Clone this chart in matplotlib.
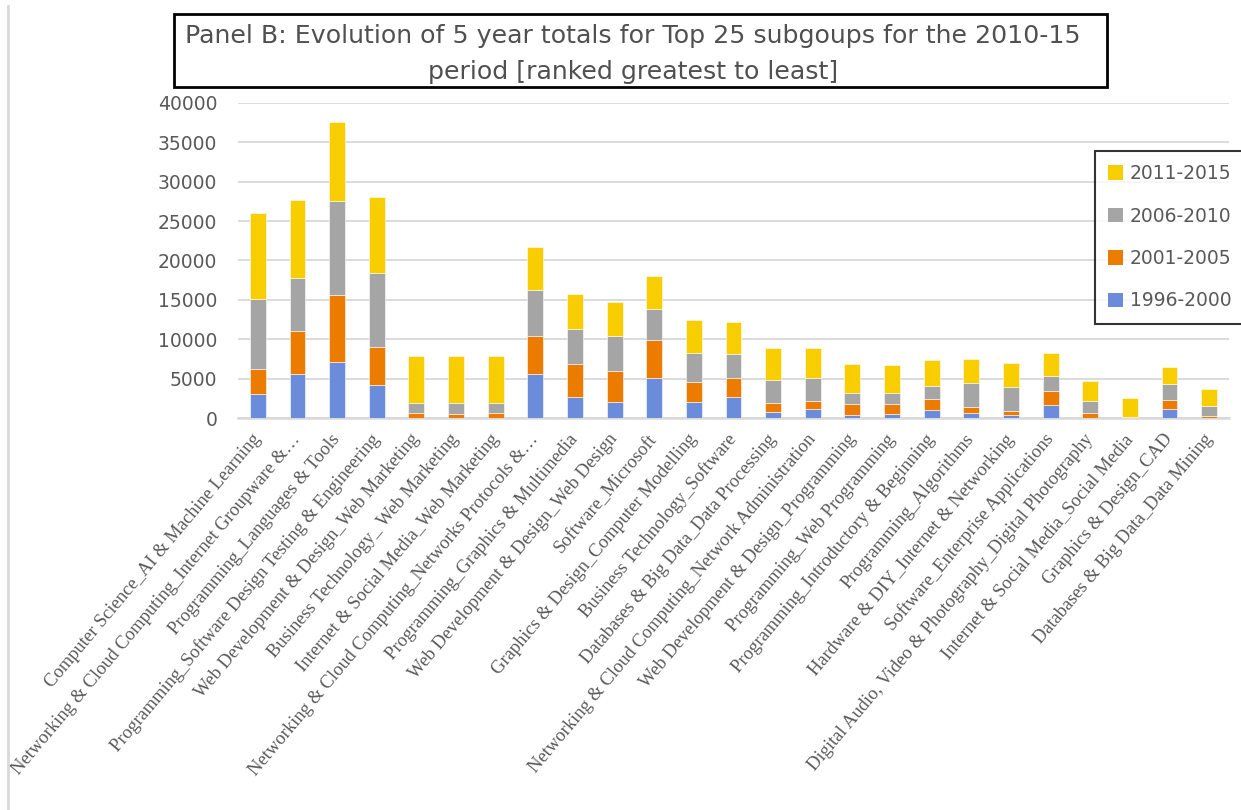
import matplotlib
matplotlib.use("Agg")
import matplotlib.pyplot as plt
from matplotlib.patches import Rectangle, Patch
from matplotlib.lines import Line2D
import numpy as np

# subgroups, ranked as in the source
categories = [
    "Computer Science_AI & Machine Learning",
    "Networking & Cloud Computing_Internet Groupware &\u2026",
    "Programming_Languages & Tools",
    "Programming_Software Design Testing & Engineering",
    "Web Development & Design_Web Marketing",
    "Business Technology_ Web Marketing",
    "Internet & Social Media_Web Marketing",
    "Networking & Cloud Computing_Networks Protocols &\u2026",
    "Programming_Graphics & Multimedia",
    "Web Development & Design_Web Design",
    "Software_Microsoft",
    "Graphics & Design_Computer Modelling",
    "Business Technology_Software",
    "Databases & Big Data_Data Processing",
    "Networking & Cloud Computing_Network Administration",
    "Web Development & Design_Programming",
    "Programming_Web Programming",
    "Programming_Introductory & Beginning",
    "Programming_Algorithms",
    "Hardware & DIY_Internet & Networking",
    "Software_Enterprise Applications",
    "Digital Audio, Video & Photography_Digital Photography",
    "Internet & Social Media_Social Media",
    "Graphics & Design_CAD",
    "Databases & Big Data_Data Mining",
]

# 5 year totals per period
p1996_2000 = [3080, 5580, 7140, 4180, 100, 80, 100, 5580, 2750, 2030, 5150, 2110, 2660,
              800, 1140, 470, 510, 1100, 630, 420, 1730, 100, 20, 1180, 40]
p2001_2005 = [3130, 5490, 8450, 4900, 530, 430, 530, 4900, 4090, 4010, 4780, 2490, 2450,
              1100, 1100, 1300, 1260, 1390, 850, 550, 1780, 580, 40, 1190, 260]
p2006_2010 = [8910, 6670, 11990, 9290, 1360, 1430, 1360, 5820, 4520, 4390, 3880, 3640, 3000,
              2920, 2830, 1400, 1400, 1650, 3040, 3040, 1900, 1560, 90, 1940, 1310]
p2011_2015 = [10860, 9970, 9930, 9630, 5910, 5920, 5870, 5370, 4440, 4350, 4230, 4180, 4100,
              4090, 3840, 3670, 3630, 3290, 2960, 2960, 2870, 2490, 2380, 2200, 2110]

series = [
    ("1996-2000", p1996_2000, "#6b8cdb"),
    ("2001-2005", p2001_2005, "#ec7c00"),
    ("2006-2010", p2006_2010, "#a5a5a5"),
    ("2011-2015", p2011_2015, "#f8ce00"),
]

W, H = 1241, 810
fig = plt.figure(figsize=(W / 100, H / 100), dpi=100)
ax = fig.add_axes([238 / W, 1 - 418.3 / H, (1229 - 238) / W, (418.3 - 102.7) / H])

x = np.arange(len(categories))
bottom = np.zeros(len(categories))
for name, vals, col in series:
    ax.bar(x, vals, 0.4, bottom=bottom, color=col, edgecolor="white", linewidth=0.4,
           label=name, zorder=3)
    bottom += np.array(vals)

ax.set_xlim(-0.5, len(categories) - 0.5)
ax.set_ylim(0, 40000)
ax.set_yticks(range(0, 40001, 5000))
ax.grid(axis="y", color="#d9d9d9", linewidth=1.3, zorder=0)
for s in ["top", "right", "left"]:
    ax.spines[s].set_visible(False)
ax.spines["bottom"].set_color("#d9d9d9")
ax.spines["bottom"].set_linewidth(1.8)
ax.tick_params(axis="y", length=0, pad=15, labelsize=13.5, labelcolor="#595959")
ax.tick_params(axis="x", length=0, pad=13)
ax.set_xticks(x)
ax.set_xticklabels(categories, rotation=50, ha="right", va="center",
                   rotation_mode="anchor", family="Liberation Serif",
                   fontsize=13.3, color="#595959")

# legend, reversed order like the source
handles = [Patch(facecolor=c) for _, _, c in series[::-1]]
labels = [n for n, _, _ in series[::-1]]
leg = fig.legend(handles, labels, loc="upper left",
                 bbox_to_anchor=(1095 / W, 1 - 151 / H),
                 frameon=True, fancybox=False, edgecolor="black",
                 fontsize=13.5, labelcolor="#595959",
                 handlelength=0.8, handleheight=0.8, handletextpad=0.35,
                 labelspacing=1.25, borderpad=0.7, borderaxespad=0)
leg.get_frame().set_linewidth(1.5)

# title box
fig.patches.append(Rectangle((174 / W, 1 - 87 / H), (1107 - 174) / W, 73 / H,
                             transform=fig.transFigure, fill=False,
                             edgecolor="black", linewidth=2))
fig.text(633 / W, 1 - 36 / H, "Panel B: Evolution of 5 year totals for Top 25 subgoups for the 2010-15",
         ha="center", va="center", fontsize=18.2, color="#505050")
fig.text(633 / W, 1 - 72 / H, "period [ranked greatest to least]",
         ha="center", va="center", fontsize=18.2, color="#505050")

# faint frame line at the left edge
fig.lines.append(Line2D([8 / W, 8 / W], [0, 1 - 6 / H], transform=fig.transFigure,
                        color="#d9d9d9", linewidth=2))

plt.savefig("out.png", dpi=100)
plt.close()
